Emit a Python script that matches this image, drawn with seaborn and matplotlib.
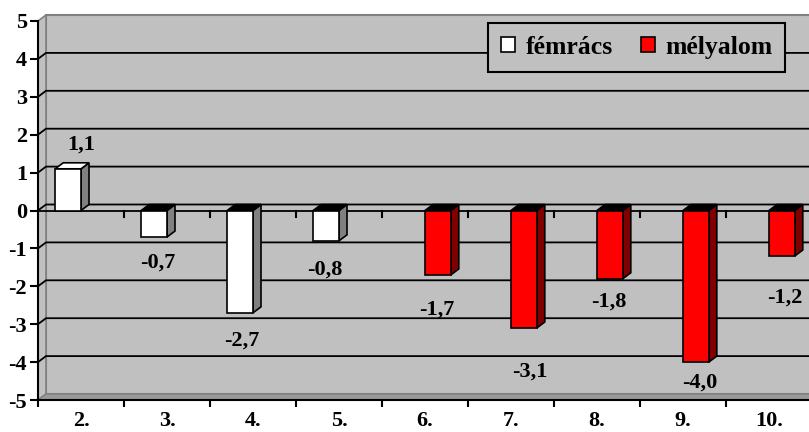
import matplotlib
matplotlib.use('Agg')
import matplotlib.pyplot as plt
import matplotlib.transforms as mtransforms
from matplotlib.patches import Polygon, Patch
from matplotlib.lines import Line2D
import seaborn as sns
import pandas as pd
import numpy as np

# ---------------- data ----------------
categories = ['2.', '3.', '4.', '5.', '6.', '7.', '8.', '9.', '10.']
series_names = ['fémrács', 'mélyalom']
femracs = [1.1, -0.7, -2.7, -0.8, None, None, None, None, None]
melyalom = [None, None, None, None, -1.7, -3.1, -1.8, -4.0, -1.2]
y_ticks = [-5, -4, -3, -2, -1, 0, 1, 2, 3, 4, 5]

# ---------------- style ----------------
series_colors = {'fémrács': '#FFFFFF', 'mélyalom': '#FF0000'}
side_colors = {'fémrács': '#808080', 'mélyalom': '#800000'}
# label baseline distance from bar end (px) and horizontal shift (px)
label_dy_px = [19, 30.5, 32.7, 33.7, 39.6, 48.5, 27.8, 25.4, 46.5]
label_dx_px = [13, 4, 1.5, -1, -1.5, 6, -1, 3.5, 3]
WALL = '#C0C0C0'
FONT = 'Liberation Serif'
FS = 16
DX, DY = 8, 6   # 3D depth in pixels

rows = []
for c, a, b in zip(categories, femracs, melyalom):
    if a is not None:
        rows.append({'cat': c, 'series': series_names[0], 'val': a})
    if b is not None:
        rows.append({'cat': c, 'series': series_names[1], 'val': b})
df = pd.DataFrame(rows)

W, H = 809, 432
fig = plt.figure(figsize=(W / 100, H / 100), dpi=100)
fig.patch.set_facecolor('white')
L, R, T, B = 38, 812, 21, 400
ax = fig.add_axes([L / W, (H - B) / H, (R - L) / W, (B - T) / H])
ax.set_facecolor(WALL)

sns.barplot(data=df, x='cat', y='val', hue='series', order=categories,
            hue_order=series_names, palette=series_colors, saturation=1,
            width=0.6, dodge=True, edgecolor='black', linewidth=1.2, legend=False,
            ax=ax, zorder=5)
ax.set_xlim(-0.5, len(categories) - 0.5)
ax.set_ylim(min(y_ticks), max(y_ticks))
fig.canvas.draw()

ID = mtransforms.IdentityTransform()
td = ax.transData

def P(x, y):
    return td.transform((x, y))

xl, xr = ax.get_xlim()
yb, yt = ax.get_ylim()
pxl, pyb = P(xl, yb)
pxr, pyt = P(xr, yt)

# back wall
ax.add_patch(Polygon([(pxl + DX, pyb + DY), (pxr + DX + 20, pyb + DY),
                      (pxr + DX + 20, pyt + DY), (pxl + DX, pyt + DY)],
                     closed=True, facecolor=WALL, edgecolor='#808080',
                     linewidth=1.5, transform=ID, clip_on=False, zorder=0.5))
# left side wall
ax.add_patch(Polygon([(pxl, pyb), (pxl, pyt), (pxl + DX, pyt + DY), (pxl + DX, pyb + DY)],
                     closed=True, facecolor=WALL, edgecolor='#808080',
                     linewidth=1.2, transform=ID, clip_on=False, zorder=0.6))
# floor
ax.add_patch(Polygon([(pxl, pyb), (pxr + 20, pyb), (pxr + DX + 20, pyb + DY), (pxl + DX, pyb + DY)],
                     closed=True, facecolor='#999999', edgecolor='#808080',
                     linewidth=1.0, transform=ID, clip_on=False, zorder=0.7))

# gridlines on the walls
for v in y_ticks[1:-1]:
    _, py = P(xl, v)
    ax.add_line(Line2D([pxl, pxl + DX, pxr + DX + 20], [py, py + DY, py + DY],
                       color='black', linewidth=1.3, transform=ID, clip_on=False, zorder=1))

# zero front line and its ticks
_, py0 = P(xl, 0)
ax.add_line(Line2D([pxl, pxr + 20], [py0, py0], color='black', linewidth=1.3,
                   transform=ID, clip_on=False, zorder=2))
for k in range(1, len(categories)):
    px, _ = P(k - 0.5, 0)
    ax.add_line(Line2D([px, px], [py0, py0 - 6], color='black', linewidth=1.5,
                       transform=ID, clip_on=False, zorder=2))

# 3D faces for bars
for sname, cont in zip(series_names, ax.containers):
    for bar in cont:
        h = bar.get_height()
        if h is None or np.isnan(h):
            continue
        x0, w = bar.get_x(), bar.get_width()
        ax0, ay0 = P(x0, 0)
        ax1, ay1 = P(x0 + w, h)
        ax.add_patch(Polygon([(ax1, ay0), (ax1, ay1), (ax1 + DX, ay1 + DY), (ax1 + DX, ay0 + DY)],
                             closed=True, facecolor=side_colors[sname], edgecolor='black',
                             linewidth=1.2, transform=ID, clip_on=False, zorder=4))
        ytop = ay1 if h > 0 else ay0
        topc = series_colors[sname] if h > 0 else '#000000'
        ax.add_patch(Polygon([(ax0, ytop), (ax1, ytop), (ax1 + DX, ytop + DY), (ax0 + DX, ytop + DY)],
                             closed=True, facecolor=topc, edgecolor='black',
                             linewidth=1.2, transform=ID, clip_on=False, zorder=4))

# value labels
for i, (c, a, b) in enumerate(zip(categories, femracs, melyalom)):
    for sname, v, cont in zip(series_names, (a, b), ax.containers):
        if v is None:
            continue
        bar = [br for br in cont if not np.isnan(br.get_height())
               and abs(br.get_x() + br.get_width() / 2 - i) < 0.5][0]
        xc = bar.get_x() + bar.get_width() / 2
        dy = label_dy_px[i] * 0.72
        ax.annotate(f"{v:.1f}".replace('.', ','), xy=(xc, v),
                    xytext=(label_dx_px[i] * 0.72, dy if v > 0 else -dy),
                    textcoords='offset points',
                    ha='center', va='baseline', fontsize=FS, fontweight='bold',
                    family=FONT, color='black', zorder=6, annotation_clip=False)

# axes / ticks
for s in ['top', 'right']:
    ax.spines[s].set_visible(False)
for s in ['left', 'bottom']:
    ax.spines[s].set_linewidth(1.5)
    ax.spines[s].set_zorder(7)
ax.set_yticks(y_ticks)
ax.set_yticklabels([str(t) for t in y_ticks])
ax.tick_params(axis='y', direction='out', length=6, width=1.5, pad=2, labelsize=FS)
ax.set_xticks(range(len(categories)))
ax.set_xticklabels(categories)
ax.set_xticks(np.arange(-0.5, len(categories)), minor=True)
ax.tick_params(axis='x', which='major', length=0, pad=8, labelsize=FS)
ax.tick_params(axis='x', which='minor', direction='out', length=5, width=1.5)
for lab in ax.get_xticklabels() + ax.get_yticklabels():
    lab.set_fontfamily(FONT)
    lab.set_fontweight('bold')
ax.set_xlabel('')
ax.set_ylabel('')
ax.grid(False)

# legend
handles = [Patch(facecolor=series_colors[s], edgecolor='black', linewidth=1.2) for s in series_names]
leg = fig.legend(handles, series_names, loc='upper left',
                 bbox_to_anchor=(488 / W, 1 - 23 / H), bbox_transform=fig.transFigure,
                 ncol=2, frameon=True, fancybox=False, framealpha=1,
                 facecolor=WALL, edgecolor='black', borderaxespad=0,
                 prop={'family': FONT, 'weight': 'bold', 'size': 18.5},
                 handlelength=0.55, handleheight=0.55, handletextpad=0.4,
                 columnspacing=1.1, borderpad=0.5)
leg.get_frame().set_linewidth(1.5)

fig.savefig('out.png', dpi=100, facecolor='white')
